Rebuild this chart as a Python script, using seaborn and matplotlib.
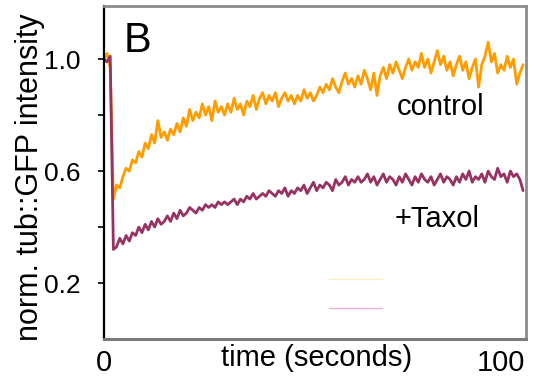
import numpy as np
import pandas as pd
import matplotlib
matplotlib.use('Agg')
import matplotlib.pyplot as plt
import seaborn as sns
from matplotlib.lines import Line2D

# ---- data ----
time_step = 0.8  # seconds between frames

control = [
    1.00, 1.02, 0.97, 0.50, 0.55, 0.54, 0.58, 0.61, 0.60, 0.64,
    0.63, 0.67, 0.65, 0.70, 0.68, 0.73, 0.70, 0.78, 0.72, 0.74,
    0.71, 0.75, 0.73, 0.77, 0.74, 0.79, 0.76, 0.82, 0.78, 0.81,
    0.79, 0.84, 0.80, 0.83, 0.78, 0.85, 0.81, 0.83, 0.80, 0.84,
    0.81, 0.86, 0.82, 0.84, 0.80, 0.85, 0.83, 0.87, 0.82, 0.86,
    0.88, 0.84, 0.87, 0.85, 0.88, 0.83, 0.86, 0.88, 0.85, 0.87,
    0.84, 0.87, 0.85, 0.89, 0.86, 0.88, 0.85, 0.87, 0.90, 0.88,
    0.91, 0.89, 0.93, 0.90, 0.88, 0.92, 0.95, 0.91, 0.93, 0.90,
    0.94, 0.91, 0.96, 0.93, 0.89, 0.95, 0.87, 0.94, 0.97, 0.93,
    0.98, 0.95, 0.99, 0.96, 0.93, 0.97, 1.00, 0.96, 0.99, 0.97,
    1.02, 0.97, 1.00, 0.95, 0.99, 1.03, 0.98, 1.01, 0.96, 0.99,
    0.94, 0.98, 1.01, 0.96, 0.99, 0.93, 0.97, 1.00, 0.90, 0.98,
    1.01, 1.06, 0.99, 1.02, 0.95, 0.98, 0.96, 1.01, 0.97, 1.00,
    0.91, 0.95, 0.98,
]

taxol = [
    1.00, 0.99, 1.01, 0.32, 0.33, 0.36, 0.34, 0.37, 0.35, 0.38,
    0.37, 0.40, 0.38, 0.41, 0.39, 0.42, 0.40, 0.43, 0.41, 0.42,
    0.44, 0.42, 0.45, 0.43, 0.46, 0.44, 0.45, 0.47, 0.46, 0.45,
    0.47, 0.46, 0.48, 0.47, 0.48, 0.47, 0.49, 0.48, 0.49, 0.48,
    0.49, 0.50, 0.48, 0.50, 0.49, 0.51, 0.50, 0.52, 0.50, 0.51,
    0.52, 0.51, 0.53, 0.52, 0.51, 0.53, 0.52, 0.54, 0.51, 0.53,
    0.52, 0.54, 0.53, 0.55, 0.52, 0.54, 0.56, 0.53, 0.55, 0.54,
    0.56, 0.55, 0.53, 0.57, 0.55, 0.56, 0.58, 0.55, 0.57, 0.56,
    0.58, 0.56, 0.57, 0.59, 0.56, 0.58, 0.55, 0.57, 0.59, 0.56,
    0.58, 0.57, 0.55, 0.58, 0.56, 0.59, 0.57, 0.55, 0.58, 0.56,
    0.59, 0.57, 0.56, 0.58, 0.55, 0.57, 0.59, 0.56, 0.58, 0.57,
    0.55, 0.58, 0.56, 0.59, 0.57, 0.60, 0.56, 0.58, 0.57, 0.59,
    0.56, 0.60, 0.58, 0.57, 0.61, 0.58, 0.59, 0.56, 0.60, 0.58,
    0.59, 0.57, 0.53,
]

conditions = ['control', '+Taxol']
colors = ['#FF9C00', '#973362']
stub_colors = ['#FDEBC4', '#F0B0DE']

x_ticks = [0, 100]
x_tick_labels = ['0', '100']
y_ticks = [0.2, 0.6, 1.0]
y_tick_labels = ['0.2', '0.6', '1.0']
y_minor_ticks = [0.4, 0.8]

# ---- build long-form table ----
time = np.arange(len(control)) * time_step
df = pd.DataFrame({
    'time': np.concatenate([time, time]),
    'value': control + taxol,
    'condition': [conditions[0]] * len(control) + [conditions[1]] * len(taxol),
})

sns.set_style('white')
plt.rcParams['font.family'] = ['Liberation Sans', 'DejaVu Sans']
plt.rcParams['text.color'] = 'black'
plt.rcParams['xtick.color'] = 'black'
plt.rcParams['ytick.color'] = 'black'
plt.rcParams['xtick.labelcolor'] = 'black'
plt.rcParams['ytick.labelcolor'] = 'black'

fig = plt.figure(figsize=(5.41, 3.88), dpi=100)
ax = fig.add_axes([0.192, 0.126, 0.780, 0.859])

sns.lineplot(data=df, x='time', y='value', hue='condition', hue_order=conditions,
             palette=dict(zip(conditions, colors)), linewidth=2.0,
             estimator=None, sort=False, legend=False, ax=ax)

ax.set_xlim(0, 106.3)
ax.set_ylim(0, 1.19)

# spines
ax.spines['left'].set_color('black')
ax.spines['left'].set_linewidth(1.6)
for s in ['top', 'right']:
    ax.spines[s].set_color('#8c8c8c')
    ax.spines[s].set_linewidth(2.0)
ax.spines['bottom'].set_color('#7a7a7a')
ax.spines['bottom'].set_linewidth(2.2)

# ticks
ax.set_yticks(y_ticks)
ax.set_yticklabels(y_tick_labels)
ax.set_yticks(y_minor_ticks, minor=True)
ax.tick_params(axis='y', which='both', direction='out', length=4, width=1.2,
               color='black', labelcolor='black', left=True, labelsize=19, pad=13)
ax.set_xticks(x_ticks)
ax.set_xticklabels(x_tick_labels)
ax.tick_params(axis='x', length=0, labelsize=21, pad=7, labelcolor='black')

ax.set_xlabel('')
ax.set_ylabel('')
ax.text(0.505, -0.057, 'time (seconds)', transform=ax.transAxes,
        ha='center', va='center', fontsize=21, color='black')
ax.text(-0.175, 0.485, 'norm. tub::GFP intensity', transform=ax.transAxes,
        rotation=90, ha='center', va='center', fontsize=22, color='black')

# annotations
ax.text(5.0, 1.025, 'B', fontsize=30, ha='left', va='baseline', color='black')
ax.text(73.8, 0.80, conditions[0], fontsize=21, ha='left', va='baseline', color='black')
ax.text(73.3, 0.40, conditions[1], fontsize=21, ha='left', va='baseline', color='black')

# faint legend stubs present in the reference
handles = [Line2D([], [], color=c, linewidth=1.0) for c in stub_colors]
ax.legend(handles, [' ', ' '], loc='center', bbox_to_anchor=(0.60, 0.134),
          frameon=False, handlelength=3.8, handletextpad=0.0,
          labelspacing=1.05, fontsize=10, borderpad=0.0)

fig.savefig('out.png', dpi=100)
